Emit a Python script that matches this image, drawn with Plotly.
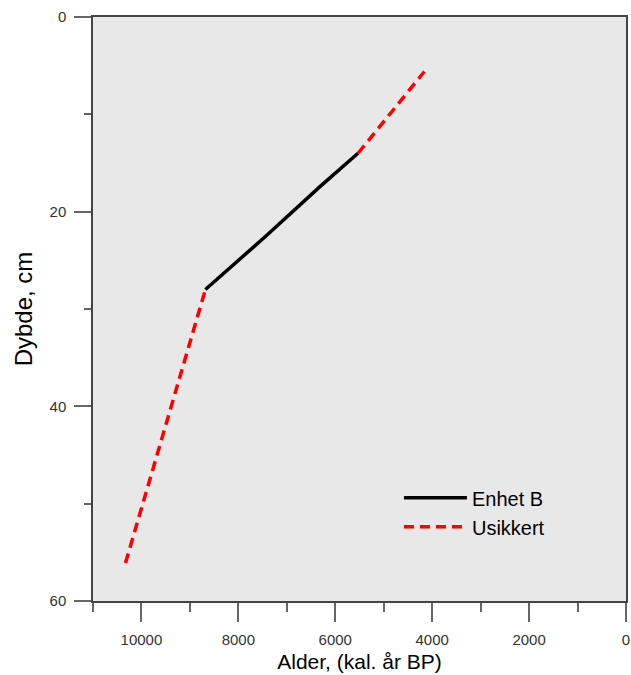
import plotly.graph_objects as go

# Alder (kal. år BP) og dybde (cm) for aldersmodellen
alder_enhet_b = [8680, 7430, 6310, 5530]
dybde_enhet_b = [28.0, 22.5, 17.4, 14.0]

alder_usikkert_nedre = [10330, 8680]
dybde_usikkert_nedre = [56.1, 28.0]
alder_usikkert_ovre = [5530, 4160]
dybde_usikkert_ovre = [14.0, 5.6]

x_ticks = [10000, 8000, 6000, 4000, 2000, 0]
x_tick_labels = ["10000", "8000", "6000", "4000", "2000", "0"]
y_ticks = [0, 20, 40, 60]
y_tick_labels = ["0", "20", "40", "60"]

FONT = "Liberation Sans, Arial, sans-serif"

fig = go.Figure()

fig.add_trace(go.Scatter(
    x=alder_enhet_b, y=dybde_enhet_b, mode="lines", name="Enhet B",
    line=dict(color="black", width=3.5),
))
fig.add_trace(go.Scatter(
    x=alder_usikkert_nedre + [None] + alder_usikkert_ovre,
    y=dybde_usikkert_nedre + [None] + dybde_usikkert_ovre,
    mode="lines", name="Usikkert", connectgaps=False,
    line=dict(color="#ff0000", width=3.5, dash="10px,6px"),
))

axis_common = dict(
    showgrid=False, zeroline=False,
    showline=True, linecolor="#444444", linewidth=1.5, mirror=True,
    ticks="outside", tickcolor="#666666", tickwidth=1.5,
    tickfont=dict(family=FONT, size=15, color="#333333"),
    ticklabeloverflow="allow", ticklabelstandoff=5,
)

fig.update_xaxes(
    **axis_common,
    range=[11000, 0], tickvals=x_ticks, ticktext=x_tick_labels, ticklen=19,
    minor=dict(dtick=1000, tick0=0, ticklen=9, ticks="outside",
               tickcolor="#666666", tickwidth=1.5),
    title=dict(text="Alder, (kal. år BP)", font=dict(family=FONT, size=21, color="black"),
               standoff=8),
)
fig.update_yaxes(
    **axis_common,
    range=[60, 0], tickvals=y_ticks, ticktext=y_tick_labels, ticklen=17,
    minor=dict(dtick=10, tick0=0, ticklen=7, ticks="outside",
               tickcolor="#666666", tickwidth=1.5),
    title=dict(text="Dybde, cm", font=dict(family=FONT, size=24, color="black"),
               standoff=10),
)

fig.update_layout(
    width=631, height=675,
    margin=dict(l=93, r=1, t=17, b=74),
    paper_bgcolor="white", plot_bgcolor="#e8e8e8",
    showlegend=True,
    legend=dict(
        x=0.574, y=0.21, xanchor="left", yanchor="top",
        bgcolor="rgba(0,0,0,0)", borderwidth=0,
        font=dict(family=FONT, size=20, color="black"),
        itemwidth=63,
    ),
)

fig.write_html("out.html")
